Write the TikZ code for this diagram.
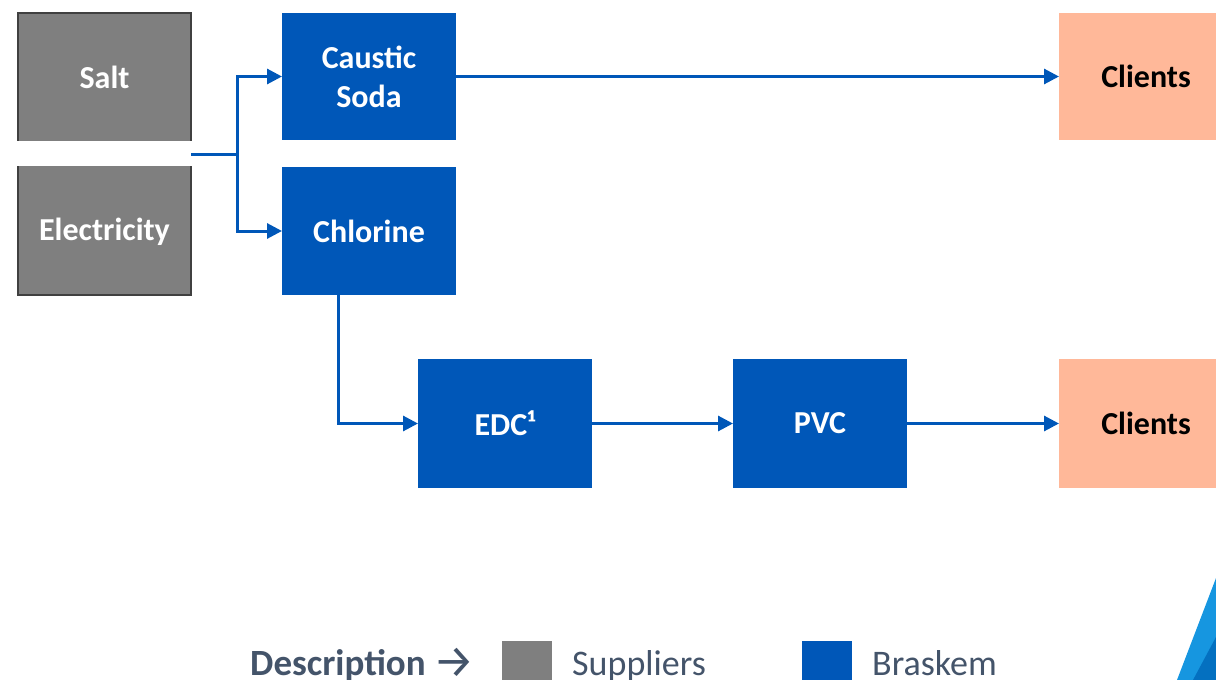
\documentclass[tikz,border=0pt]{standalone}
\usepackage{fontspec}
\setmainfont{Carlito}
\newfontfamily\symfont{Fira Sans}
\usetikzlibrary{arrows.meta}
\definecolor{bkblue}{RGB}{0,87,184}
\definecolor{supgray}{RGB}{127,127,127}
\definecolor{supedge}{RGB}{64,64,64}
\definecolor{clientc}{RGB}{255,184,153}
\definecolor{legtext}{RGB}{68,84,106}
\definecolor{lightdeco}{RGB}{22,150,224}
\definecolor{darkdeco}{RGB}{4,112,192}
\tikzset{
  bbox/.style={fill=bkblue, draw=none, inner sep=0pt, outer sep=0pt, minimum width=174pt, text=white, align=center, font=\fontsize{32}{39}\selectfont\bfseries},
  cbox/.style={fill=clientc, draw=none, inner sep=0pt, outer sep=0pt, minimum width=174pt, text=black, align=center, font=\fontsize{32}{39}\selectfont\bfseries},
  gtext/.style={text=white, inner sep=0pt, font=\fontsize{32}{39}\selectfont\bfseries},
  conn/.style={draw=bkblue, line width=3pt},
  arr/.style={conn, -{Triangle[length=15pt, width=15pt]}},
  legend/.style={text=legtext, inner sep=0pt, anchor=base west, font=\fontsize{36}{40}\selectfont}
}
\begin{document}
\begin{tikzpicture}[x=1pt,y=-1pt]
\useasboundingbox (0,0) rectangle (1216,680);
% suppliers block
\draw[fill=supgray, draw=supedge, line width=1.5pt] (18,13) rectangle (191,295);
\fill[white] (17,141) rectangle (192,166);
\node[gtext] (salt) at (104.5,77) {Salt};
\node[gtext] (elec) at (104.5,231.5) {Electricity};
\coordinate (src) at (191,154);
\coordinate (split) at (237,154);
% Braskem boxes
\node[bbox, minimum height=127pt] (caustic) at (369,76.5) {Caustic\\Soda};
\node[bbox, minimum height=128pt] (chlorine) at (369,231) {Chlorine};
\node[bbox, minimum height=129pt] (edc) at (505,423.5) {EDC¹};
\node[bbox, minimum height=129pt] (pvc) at (820,423.5) {PVC};
\node[cbox, minimum height=127pt] (cl1) at (1146,76.5) {Clients};
\node[cbox, minimum height=129pt] (cl2) at (1146,423.5) {Clients};
% connectors
\draw[conn] (src) -- (split);
\draw[arr] (split) |- (caustic.west);
\draw[arr] (split) |- (chlorine.west);
\draw[arr] (caustic.east) -- (cl1.west);
\draw[arr] ([xshift=-31pt]chlorine.south) |- (edc.west);
\draw[arr] (edc.east) -- (pvc.west);
\draw[arr] (pvc.east) -- (cl2.west);
% legend
\node[legend, font=\fontsize{37}{40}\selectfont\bfseries] (desc) at (250,675) {Description};
\node[legend, font=\fontsize{46}{50}\symfont] (darrow) at (433,677) {→};
\fill[supgray] (502,641) rectangle (552,690);
\node[legend] (sup) at (572,675) {Suppliers};
\fill[bkblue] (802,641) rectangle (852,690);
\node[legend] (bra) at (872,675) {Braskem};
% corner decoration
\fill[lightdeco] (1216,578) -- (1177,680) -- (1216,680) -- cycle;
\fill[darkdeco] (1216,637) -- (1193,680) -- (1216,680) -- cycle;
\end{tikzpicture}
\end{document}
